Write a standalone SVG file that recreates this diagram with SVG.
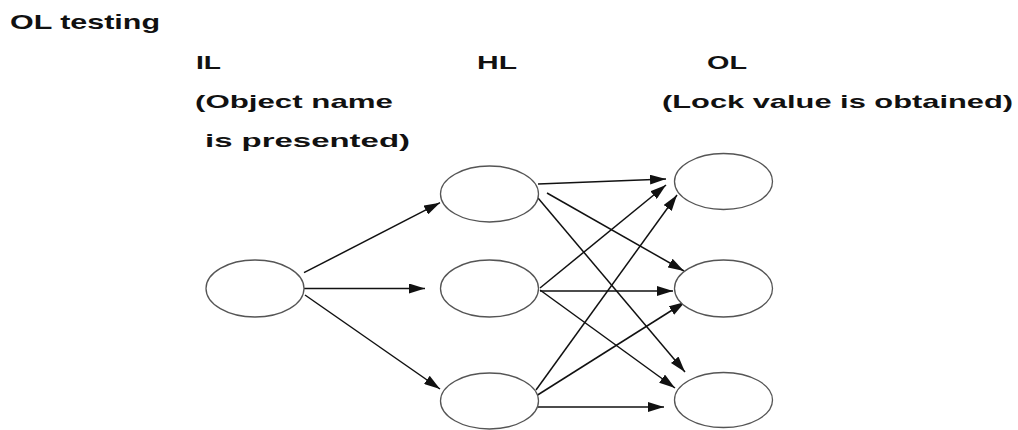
<svg xmlns="http://www.w3.org/2000/svg" width="1018" height="430" viewBox="0 0 1018 430">
  <style>
    .label { font-family: "Liberation Sans", Arial, sans-serif; font-weight: bold; fill: #111; }
    .neuron { fill: #fff; stroke: #555; stroke-width: 1.3; }
    .link { stroke: #111; stroke-width: 1.5; fill: none; marker-end: url(#head); }
  </style>
  <defs>
    <marker id="head" markerUnits="userSpaceOnUse" markerWidth="16" markerHeight="10" refX="16" refY="5" orient="auto">
      <path d="M0,0 L16,5 L0,10 z" fill="#111"/>
    </marker>
  </defs>
  <rect width="1018" height="430" fill="#fff"/>

  <!-- headings -->
  <g id="title">
    <text class="label" x="10" y="28.5" font-size="20.5" textLength="150" lengthAdjust="spacingAndGlyphs">OL testing</text>
  </g>
  <g id="il-label">
    <text class="label" x="196" y="68.5" font-size="19" textLength="25" lengthAdjust="spacingAndGlyphs">IL</text>
    <text class="label" x="195" y="108" font-size="19" textLength="198" lengthAdjust="spacingAndGlyphs">(Object name</text>
    <text class="label" x="205" y="146.5" font-size="19" textLength="205" lengthAdjust="spacingAndGlyphs">is presented)</text>
  </g>
  <g id="hl-label">
    <text class="label" x="477" y="68.5" font-size="19" textLength="40" lengthAdjust="spacingAndGlyphs">HL</text>
  </g>
  <g id="ol-label">
    <text class="label" x="707" y="68.5" font-size="19" textLength="40" lengthAdjust="spacingAndGlyphs">OL</text>
    <text class="label" x="662" y="108" font-size="19" textLength="351" lengthAdjust="spacingAndGlyphs">(Lock value is obtained)</text>
  </g>

  <!-- connectors -->
  <g id="connectors">
    <line class="link" x1="304" y1="272.7" x2="440" y2="202.7"/>
    <line class="link" x1="300" y1="288.5" x2="425" y2="288.5"/>
    <line class="link" x1="305" y1="295" x2="440" y2="389"/>

    <line class="link" x1="538" y1="184" x2="666" y2="179"/>
    <line class="link" x1="547" y1="193" x2="684" y2="271"/>
    <line class="link" x1="538" y1="198" x2="685" y2="372"/>

    <line class="link" x1="540" y1="288" x2="666" y2="185"/>
    <line class="link" x1="540" y1="291" x2="673" y2="291"/>
    <line class="link" x1="540" y1="290" x2="675" y2="388"/>

    <line class="link" x1="536" y1="390" x2="677" y2="195"/>
    <line class="link" x1="536" y1="396" x2="685" y2="302"/>
    <line class="link" x1="538" y1="407" x2="664" y2="407"/>
  </g>

  <!-- input layer -->
  <g id="il-node">
    <ellipse class="neuron" cx="255" cy="288.5" rx="49" ry="28.5"/>
  </g>

  <!-- hidden layer -->
  <g id="hl-node-1">
    <ellipse class="neuron" cx="489.5" cy="194" rx="49" ry="28"/>
  </g>
  <g id="hl-node-2">
    <ellipse class="neuron" cx="489.5" cy="288.5" rx="49" ry="28.5"/>
  </g>
  <g id="hl-node-3">
    <ellipse class="neuron" cx="489.5" cy="401" rx="49" ry="28"/>
  </g>

  <!-- output layer -->
  <g id="ol-node-1">
    <ellipse class="neuron" cx="723.5" cy="181.5" rx="49" ry="28"/>
  </g>
  <g id="ol-node-2">
    <ellipse class="neuron" cx="723.5" cy="288.5" rx="49" ry="28.5"/>
  </g>
  <g id="ol-node-3">
    <ellipse class="neuron" cx="723.5" cy="400" rx="49" ry="27.5"/>
  </g>
</svg>
